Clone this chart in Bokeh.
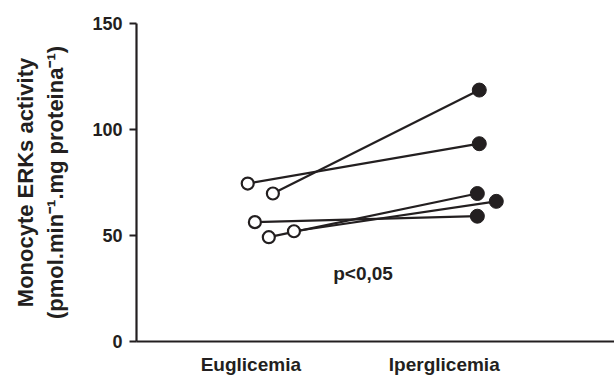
from bokeh.plotting import figure
from bokeh.models import FixedTicker, Range1d, Label, ColumnDataSource
from bokeh.embed import file_html
from bokeh.resources import INLINE

# data
categories = ["Euglicemia", "Iperglicemia"]
category_pos = [1, 2]
eu_x = [0.984, 1.114, 1.021, 1.093, 1.223]
eu_y = [74.5, 69.8, 56.3, 49.2, 52.0]
ip_x = [2.181, 2.181, 2.171, 2.171, 2.269]
ip_y = [93.3, 118.6, 59.1, 69.8, 66.1]
y_ticks = [0, 50, 100, 150]
p_text = "p<0,05"
p_pos = (1.58, 31.9)

INK = "#231f20"
FONT = "Liberation Sans"

p = figure(width=614, height=377, output_backend="svg", toolbar_location=None,
           x_range=Range1d(0.409, 2.88), y_range=Range1d(0, 150),
           min_border_left=136, min_border_top=23, min_border_right=0, min_border_bottom=34)
p.outline_line_color = None
p.grid.visible = False
p.background_fill_color = "white"
p.border_fill_color = "white"

src = ColumnDataSource(dict(x0=eu_x, y0=eu_y, x1=ip_x, y1=ip_y))
p.segment("x0", "y0", "x1", "y1", source=src, line_color=INK, line_width=2.2)
p.scatter("x1", "y1", source=src, size=14, fill_color=INK, line_color=INK, line_width=1)
p.scatter("x0", "y0", source=src, size=12, fill_color="white", line_color=INK, line_width=2.2)

p.add_layout(Label(x=p_pos[0], y=p_pos[1], text=p_text, text_align="center",
                   text_baseline="alphabetic", text_font=FONT, text_font_style="bold",
                   text_font_size="19px", text_color=INK))

# y axis
ya = p.yaxis[0]
ya.ticker = FixedTicker(ticks=y_ticks)
ya.axis_line_width = 2.2
ya.axis_line_color = INK
ya.major_tick_line_width = 2.2
ya.major_tick_line_color = INK
ya.major_tick_out = 7
ya.major_tick_in = 0
ya.minor_tick_line_color = None
ya.major_label_text_font = FONT
ya.major_label_text_font_style = "bold"
ya.major_label_text_font_size = "18px"
ya.major_label_text_color = INK
ya.major_label_standoff = 7
ya.axis_label = "Monocyte ERKs activity\n(pmol.min\u207b\u00b9.mg proteina\u207b\u00b9)"
ya.axis_label_text_font = FONT
ya.axis_label_text_font_style = "bold"
ya.axis_label_text_font_size = "22px"
ya.axis_label_text_color = INK
ya.axis_label_standoff = 21

# x axis
xa = p.xaxis[0]
xa.ticker = FixedTicker(ticks=category_pos)
xa.major_label_overrides = {category_pos[i]: categories[i] for i in range(len(categories))}
xa.axis_line_width = 2.2
xa.axis_line_color = INK
xa.major_tick_line_color = None
xa.major_tick_out = 0
xa.major_tick_in = 0
xa.minor_tick_line_color = None
xa.major_label_text_font = FONT
xa.major_label_text_font_style = "bold"
xa.major_label_text_font_size = "19px"
xa.major_label_text_color = INK
xa.major_label_standoff = 12

open("out.html", "w").write(file_html(p, INLINE))
